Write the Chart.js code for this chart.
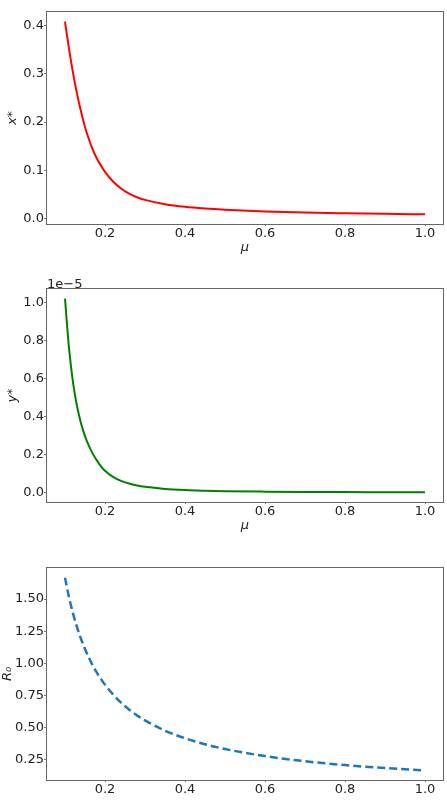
<!DOCTYPE html>
<html>
<head>
<meta charset="utf-8">
<script src="https://cdn.jsdelivr.net/npm/chart.js@4/dist/chart.umd.min.js"></script>
<style>
  html, body { margin: 0; padding: 0; background: #fff; overflow: hidden; width: 447px; height: 800px; }
  .box { position: absolute; left: 0; width: 447px; }
  canvas { display: block; }
</style>
</head>
<body>
<div class="box" style="top:0px;height:256px"><canvas id="c1" width="447" height="256"></canvas></div>
<div class="box" style="top:262px;height:272px"><canvas id="c2" width="447" height="272"></canvas></div>
<div class="box" style="top:540px;height:272px"><canvas id="c3" width="447" height="272"></canvas></div>
<script>
// ---- data ----
const mu = [0.10, 0.11, 0.12, 0.13, 0.14, 0.15, 0.16, 0.17, 0.18, 0.19, 0.20,
            0.22, 0.24, 0.26, 0.28, 0.30, 0.35, 0.40, 0.45, 0.50, 0.60, 0.70, 0.80, 0.90, 1.00];
const xStar = [0.408, 0.352, 0.302, 0.259, 0.222, 0.190, 0.164, 0.142, 0.124, 0.110, 0.097,
               0.077, 0.0625, 0.052, 0.0445, 0.039, 0.030, 0.0245, 0.021, 0.0185, 0.015, 0.0127, 0.0112, 0.010, 0.009];
// y* in units of 1e-5
const yStar = [1.02, 0.76, 0.58, 0.455, 0.365, 0.297, 0.244, 0.202, 0.168, 0.138, 0.114,
               0.082, 0.061, 0.047, 0.037, 0.030, 0.019, 0.013, 0.0095, 0.007, 0.0045, 0.003, 0.002, 0.0015, 0.001];
const r0 = [1.667, 1.515, 1.389, 1.282, 1.190, 1.111, 1.042, 0.980, 0.926, 0.877, 0.833,
            0.758, 0.694, 0.641, 0.595, 0.556, 0.476, 0.417, 0.370, 0.333, 0.278, 0.238, 0.208, 0.185, 0.167];
const muTicks = [0.2, 0.4, 0.6, 0.8, 1.0];
const xStarTicks = [0.0, 0.1, 0.2, 0.3, 0.4];
const yStarTicks = [0.0, 0.2, 0.4, 0.6, 0.8, 1.0];
const r0Ticks = [0.25, 0.50, 0.75, 1.00, 1.25, 1.50];

const FONT = "'DejaVu Sans', sans-serif";
const TXT = '#222';
const FRAME = '#666';

const framePlugin = {
  id: 'frame',
  afterDraw(chart) {
    const a = chart.chartArea, ctx = chart.ctx;
    ctx.save();
    ctx.strokeStyle = FRAME;
    ctx.lineWidth = 1;
    ctx.strokeRect(a.left - 0.5, a.top - 0.5, a.right - a.left + 1, a.bottom - a.top + 1);
    const off = chart.options.plugins.frame && chart.options.plugins.frame.offsetText;
    if (off) {
      ctx.fillStyle = TXT;
      ctx.font = "13px " + FONT;
      ctx.textAlign = 'left';
      ctx.textBaseline = 'alphabetic';
      ctx.fillText(off, a.left, a.top - 1);
    }
    ctx.restore();
  }
};

function makeChart(id, values, color, dash, width, yTicks, dec, yMin, yMax, yTitle, titlePadTop, padTop, offsetText) {
  const pts = mu.map((m, i) => ({ x: m, y: values[i] }));
  return new Chart(document.getElementById(id), {
    type: 'line',
    data: { datasets: [{
      data: pts, borderColor: color, borderWidth: width, borderDash: dash,
      pointRadius: 0, fill: false, cubicInterpolationMode: 'monotone'
    }]},
    plugins: [framePlugin],
    options: {
      responsive: false, animation: false, devicePixelRatio: 1,
      layout: { padding: { top: padTop, right: 4, left: 0, bottom: 0 } },
      plugins: { legend: { display: false }, tooltip: { enabled: false }, frame: { offsetText: offsetText } },
      scales: {
        x: {
          type: 'linear', min: 0.055, max: 1.045,
          afterBuildTicks: s => { s.ticks = muTicks.map(v => ({ value: v })); },
          afterFit: s => { s.height = 32; },
          ticks: { color: TXT, font: { family: FONT, size: 13 }, padding: 0, maxRotation: 0,
                   callback: v => Number(v).toFixed(1) },
          grid: { display: true, drawOnChartArea: false, drawTicks: true, tickLength: 2, color: '#777' },
          border: { display: false },
          title: { display: true, text: 'μ', color: TXT, font: { family: FONT, size: 13, style: 'italic' },
                   padding: { top: 0, bottom: 1 } }
        },
        y: {
          type: 'linear', min: yMin, max: yMax,
          afterBuildTicks: s => { s.ticks = yTicks.map(v => ({ value: v })); },
          afterFit: s => { s.width = 47; },
          ticks: { color: TXT, font: { family: FONT, size: 13 }, padding: 0,
                   callback: v => Number(v).toFixed(dec) },
          grid: { display: true, drawOnChartArea: false, drawTicks: true, tickLength: 3, color: '#777' },
          border: { display: false },
          title: { display: true, text: yTitle, color: TXT, font: { family: FONT, size: 13, style: 'italic' },
                   padding: { top: titlePadTop, bottom: 0 } }
        }
      }
    }
  });
}

makeChart('c1', xStar, '#ff0000', [], 2, xStarTicks, 1, -0.011, 0.428, 'x*', 5, 12, null);
makeChart('c2', yStar, '#008000', [], 2, yStarTicks, 1, -0.05, 1.071, 'y*', 5, 27, '1e\u22125');
makeChart('c3', r0, '#1f77b4', [8, 4], 2.5, r0Ticks, 2, 0.092, 1.742, 'R\u2080', 0, 28, null);
</script>
</body>
</html>
